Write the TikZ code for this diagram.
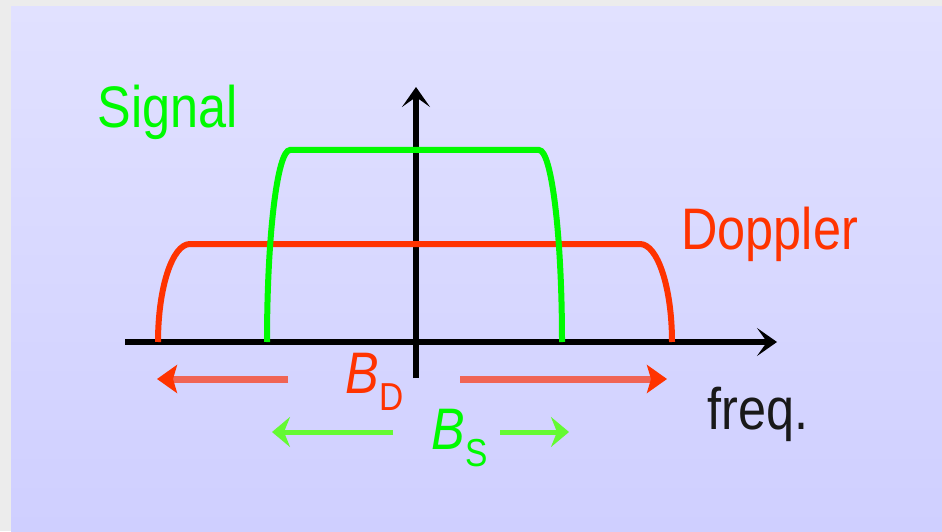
\documentclass[tikz,border=0pt]{standalone}
\usepackage{fontspec}
\setmainfont{Liberation Sans}
\newfontfamily\lblfont[FakeStretch=0.86]{Liberation Sans}
\usetikzlibrary{arrows.meta}

\definecolor{framegray}{RGB}{236,236,236}
\definecolor{lavtop}{RGB}{225,225,255}
\definecolor{lavbot}{RGB}{207,207,255}
\definecolor{sigcol}{RGB}{0,250,0}
\definecolor{sigshaft}{RGB}{100,250,50}
\definecolor{dopcol}{RGB}{255,51,0}
\definecolor{dopshaft}{RGB}{240,100,85}

\begin{document}
\begin{tikzpicture}[
    x=0.5pt, y=0.5pt,
    font={\lblfont\fontsize{29.3}{32}\selectfont},
    axis/.style={draw=black, line width=3pt,
                 -{Stealth[length=10pt, width=14pt, inset=5pt]}},
    band sig/.style={draw=sigcol, line width=3pt},
    band dop/.style={draw=dopcol, line width=3pt},
    width dop/.style={draw=dopshaft, line width=3.5pt,
                      -{Stealth[length=10pt, width=14pt, inset=2pt, color=dopcol]}},
    width sig/.style={draw=sigshaft, line width=2.5pt,
                      -{Stealth[length=9pt, width=15pt, inset=3pt]}},
    lbl/.style={inner sep=0pt, anchor=base west},
]

\def\subsz{\fontsize{19.5}{21}\selectfont}  % subscript size

% =====================================================================
%  BACKGROUND
% =====================================================================
\useasboundingbox (0,0) rectangle (942,531);
\fill[framegray] (0,0) rectangle (942,531);
\shade[top color=lavtop, bottom color=lavbot] (11,0) rectangle (942,524);

% --- Axes ---
\coordinate (xstart) at (125,189);
\coordinate (xend)   at (777,189);
\coordinate (ystart) at (416,153);
\coordinate (yend)   at (416,444);
\draw[axis] (xstart) -- (xend);
\draw[axis] (ystart) -- (yend);

% --- Doppler band (red) ---
\draw[band dop] (158,189) arc[start angle=180, end angle=90, x radius=32, y radius=98]
    -- (640,287) arc[start angle=90, end angle=0, x radius=32, y radius=98];

% --- Signal band (green) ---
\draw[band sig] (267,189) arc[start angle=180, end angle=90, x radius=23, y radius=192]
    -- (539,381) arc[start angle=90, end angle=0, x radius=23, y radius=192];

% --- Labels ---
\node[lbl, text=sigcol] (signal) at (97,403) {Signal};
\node[lbl, text=dopcol] (doppler) at (681,282) {Doppler};
\node[lbl, text=black!90] (freq) at (707,102) {freq.};
\node[lbl, text=dopcol] (bd) at (345,138) {\itshape B\upshape\raisebox{-8.5pt}{\subsz D}};
\node[lbl, text=sigcol] (bs) at (431,82) {\itshape B\upshape\raisebox{-8.5pt}{\subsz S}};

% --- Width arrows: B_D ---
\coordinate (bdL0) at (288,152);
\coordinate (bdL1) at (157,152);
\coordinate (bdR0) at (460,152);
\coordinate (bdR1) at (667,152);
\draw[width dop] (bdL0) -- (bdL1);
\draw[width dop] (bdR0) -- (bdR1);

% --- Width arrows: B_S ---
\coordinate (bsL0) at (393,99);
\coordinate (bsL1) at (272,99);
\coordinate (bsR0) at (500,99);
\coordinate (bsR1) at (569,99);
\draw[width sig] (bsL0) -- (bsL1);
\draw[width sig] (bsR0) -- (bsR1);

\end{tikzpicture}
\end{document}
